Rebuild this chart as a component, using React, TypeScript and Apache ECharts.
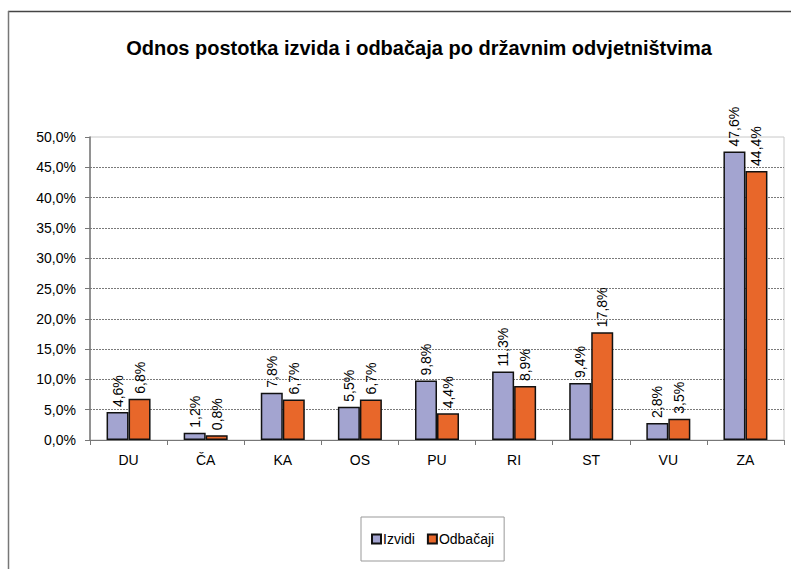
import React, { useEffect, useRef } from "react";
import * as echarts from "echarts";

const categories = ["DU", "ČA", "KA", "OS", "PU", "RI", "ST", "VU", "ZA"];
const izvidi = [4.6, 1.2, 7.8, 5.5, 9.8, 11.3, 9.4, 2.8, 47.6];
const odbacaji = [6.8, 0.8, 6.7, 6.7, 4.4, 8.9, 17.8, 3.5, 44.4];
const seriesNames = ["Izvidi", "Odbačaji"];
const titleText = "Odnos postotka izvida i odbačaja po državnim odvjetništvima";

const FONT = "'Liberation Sans', Arial, sans-serif";

const fmt1 = (v: number) => v.toFixed(1).replace(".", ",") + "%";

export default function App() {
  const ref = useRef<HTMLDivElement>(null);
  useEffect(() => {
    if (!ref.current) return;
    const chart = echarts.init(ref.current, undefined, { renderer: "svg" });
    const labelCfg = {
      show: true,
      position: "top" as const,
      rotate: 90,
      align: "left" as const,
      verticalAlign: "middle" as const,
      distance: 5,
      color: "#000",
      fontFamily: FONT,
      fontSize: 14,
      formatter: (p: any) => fmt1(p.value),
    };
    chart.setOption({
      animation: false,
      backgroundColor: "#fff",
      textStyle: { fontFamily: FONT, color: "#000" },
      title: {
        text: titleText,
        left: 414,
        top: 33,
        textAlign: "center",
        textStyle: { fontFamily: FONT, fontSize: 20, fontWeight: "bold", color: "#000" },
      },
      graphic: [
        { type: "line", shape: { x1: 8, y1: 11.5, x2: 791, y2: 11.5 }, style: { stroke: "#444", lineWidth: 1.5 } },
        { type: "line", shape: { x1: 8.5, y1: 11, x2: 8.5, y2: 569 }, style: { stroke: "#777", lineWidth: 1.5 } },
      ],
      legend: {
        left: 361,
        top: 517,
        orient: "horizontal",
        itemWidth: 9,
        itemHeight: 9,
        itemGap: 12,
        padding: [15, 10, 15, 10],
        borderColor: "#999",
        borderWidth: 1,
        icon: "rect",
        textStyle: { fontFamily: FONT, fontSize: 14, color: "#000", padding: [0, 0, 0, -3] },
        data: seriesNames,
      },
      grid: {
        left: 90,
        right: 7,
        top: 137,
        bottom: 129,
        show: true,
        borderColor: "#c8c8c8",
        borderWidth: 1,
        containLabel: false,
      },
      xAxis: {
        type: "category",
        data: categories,
        axisLine: { lineStyle: { color: "#777", width: 1 } },
        axisTick: { show: true, length: 5, lineStyle: { color: "#777" } },
        axisLabel: { fontFamily: FONT, fontSize: 14, color: "#000", margin: 13 },
      },
      yAxis: {
        type: "value",
        min: 0,
        max: 50,
        interval: 5,
        axisLine: { show: true, lineStyle: { color: "#777", width: 1.5 } },
        axisTick: { show: true, length: 5, lineStyle: { color: "#777" } },
        axisLabel: {
          fontFamily: FONT,
          fontSize: 14,
          color: "#000",
          margin: 14,
          formatter: (v: number) => fmt1(v),
        },
        splitLine: {
          show: true,
          showMaxLine: false,
          lineStyle: { color: "#7a7a7a", type: [2, 1], width: 1 },
        },
      },
      series: [
        {
          name: seriesNames[0],
          type: "bar",
          data: izvidi,
          barWidth: 22,
          barGap: "0%",
          itemStyle: { color: "#a3a4d0", borderColor: "#111", borderWidth: 1.5 },
          label: labelCfg,
        },
        {
          name: seriesNames[1],
          type: "bar",
          data: odbacaji,
          barWidth: 22,
          barGap: "0%",
          itemStyle: { color: "#e8672a", borderColor: "#111", borderWidth: 1.5 },
          label: labelCfg,
        },
      ],
    });
    return () => chart.dispose();
  }, []);
  return <div ref={ref} style={{ width: 791, height: 569, position: "absolute", left: 0, top: 0 }} />;
}
